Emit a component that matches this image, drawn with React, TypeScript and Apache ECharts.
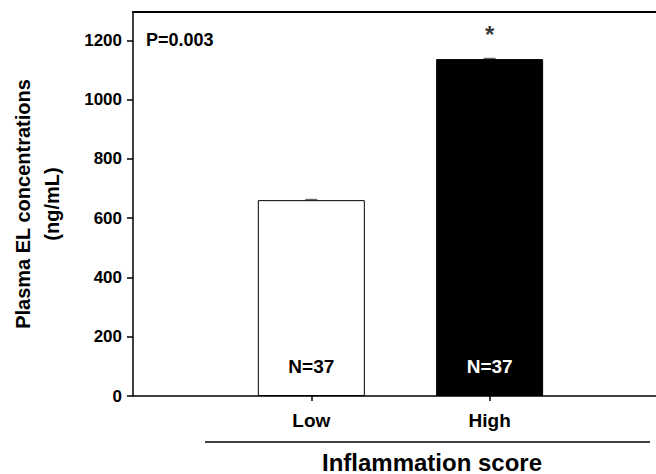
import React, { useEffect, useRef } from "react";
import * as echarts from "echarts";

const categories = ["Low", "High"];
const categoryPos = [1, 2];
const barCenters = [1, 2];
const means = [661, 1137];
const errors = [2, 2];
const nLabels = ["N=37", "N=37"];
const barColors = ["#ffffff", "#000000"];
const nLabelColors = ["#000000", "#ffffff"];
const yTicks = [0, 200, 400, 600, 800, 1000, 1200];
const pText = "P=0.003";
const starText = "*";
const yName = "Plasma EL concentrations\n(ng/mL)";
const xName = "Inflammation score";

const FONT = '"Liberation Sans", Arial, sans-serif';

export default function App() {
  const ref = useRef<HTMLDivElement>(null);
  useEffect(() => {
    if (!ref.current) return;
    const chart = echarts.init(ref.current, null, { renderer: "svg" });
    const barData = means.map((v, i) => ({
      value: [barCenters[i], v],
      itemStyle: { color: barColors[i], borderColor: "#000", borderWidth: 1 },
      label: {
        show: true,
        position: "insideBottom",
        distance: 20,
        formatter: nLabels[i],
        color: nLabelColors[i],
        fontFamily: FONT,
        fontWeight: "bold",
        fontSize: 19,
      },
    }));
    chart.setOption({
      animation: false,
      backgroundColor: "#ffffff",
      grid: { left: 133, right: 0, top: 12, bottom: 78, containLabel: false, outerBoundsMode: "none" },
      xAxis: [
        {
          type: "value",
          min: 0,
          max: 2.933,
          position: "bottom",
          axisLine: { show: true, lineStyle: { color: "#000", width: 1.5 } },
          axisTick: { show: true, length: 5, lineStyle: { color: "#000", width: 1.5 }, customValues: categoryPos },
          axisLabel: {
            customValues: categoryPos,
            formatter: (v: number) => categories[categoryPos.indexOf(Math.round(v))] ?? "",
            margin: 15,
            color: "#000",
            fontFamily: FONT,
            fontWeight: "bold",
            fontSize: 19,
          },
          splitLine: { show: false },
        },
        {
          type: "value",
          min: 0,
          max: 2.933,
          position: "top",
          axisLine: { show: true, lineStyle: { color: "#000", width: 2 } },
          axisTick: { show: false },
          axisLabel: { show: false },
          splitLine: { show: false },
        },
      ],
      yAxis: {
        type: "value",
        min: 0,
        max: 1296,
        axisLine: { show: true, lineStyle: { color: "#000", width: 1.5 } },
        axisTick: { show: true, length: 6, lineStyle: { color: "#000", width: 1.5 }, customValues: yTicks },
        axisLabel: {
          customValues: yTicks,
          formatter: (v: number) => String(v),
          margin: 11,
          color: "#000",
          fontFamily: FONT,
          fontWeight: "bold",
          fontSize: 17,
        },
        splitLine: { show: false },
        name: yName,
        nameLocation: "middle",
        nameGap: 67,
        nameTextStyle: {
          color: "#000",
          fontFamily: FONT,
          fontWeight: "bold",
          fontSize: 20,
          lineHeight: 29,
        },
      },
      series: [
        {
          type: "bar",
          xAxisIndex: 0,
          barWidth: 107,
          data: barData,
        },
        {
          type: "custom",
          xAxisIndex: 0,
          data: means.map((v, i) => [barCenters[i], v, errors[i]]),
          renderItem: (params: any, api: any) => {
            const x = api.value(0);
            const y = api.value(1);
            const e = api.value(2);
            const top = api.coord([x, y + e]);
            const bot = api.coord([x, y]);
            return {
              type: "group",
              children: [
                { type: "line", shape: { x1: top[0], y1: top[1], x2: bot[0], y2: bot[1] }, style: { stroke: "#666", lineWidth: 1.5 } },
                { type: "line", shape: { x1: top[0] - 6, y1: top[1], x2: top[0] + 6, y2: top[1] }, style: { stroke: "#666", lineWidth: 1.5 } },
              ],
            };
          },
        },
        {
          type: "scatter",
          xAxisIndex: 0,
          symbolSize: 0,
          data: [[barCenters[1], means[1] + errors[1]]],
          label: {
            show: true,
            position: "top",
            distance: 12,
            formatter: starText,
            color: "#000",
            fontFamily: FONT,
            fontWeight: "bold",
            fontSize: 24,
          },
        },
      ],
      graphic: [
        {
          type: "text",
          left: 146,
          top: 31,
          style: { text: pText, fill: "#000", font: `bold 18px ${FONT}` },
        },
        {
          type: "line",
          shape: { x1: 205, y1: 442, x2: 650, y2: 442 },
          style: { stroke: "#000", lineWidth: 1.5 },
        },
        {
          type: "text",
          x: 432,
          y: 462,
          style: { text: xName, fill: "#000", font: `bold 24px ${FONT}`, align: "center", verticalAlign: "middle" },
        },
      ],
    });
    return () => chart.dispose();
  }, []);
  return <div ref={ref} style={{ width: 656, height: 474, position: "absolute", left: 0, top: 0 }} />;
}
